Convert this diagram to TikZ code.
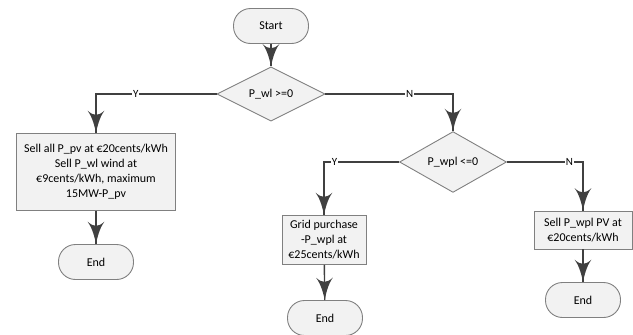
\documentclass[tikz,border=0pt]{standalone}
\usepackage{fontspec}
\setmainfont{Carlito}
\usetikzlibrary{arrows}
\usetikzlibrary{decorations.markings}
\usetikzlibrary{shapes.geometric}
\tikzset{arr/.style = {decoration={markings,
                                   mark=at position 1 with {\arrow[scale=3.2]{latex'}}},
                       postaction={decorate}}}
\tikzset{term/.style = {draw = black!50, fill = black!5, line width = 0.9pt, rounded corners = 17,
                        minimum width = 75, minimum height = 35,
                        font = \fontsize{12}{15}\selectfont}}
\tikzset{decide/.style = {diamond, draw = black!50, fill = black!5, line width = 0.9pt, inner sep = 0,
                          font = \fontsize{12}{15}\selectfont}}
\tikzset{task/.style = {draw = black!50, fill = black!5, line width = 0.9pt, align = center, inner sep = 2,
                        font = \fontsize{12}{15}\selectfont}}
\tikzset{lbl/.style = {fill = white, inner sep = 1, font = \fontsize{11}{12}\selectfont}}

\begin{document}
\begin{tikzpicture}[x = 1pt, y = -1pt, line width = 1.4pt, draw = black!75]
    \useasboundingbox (0, 0) rectangle (633, 335);
    \node [term] (start) at (271, 26) {Start};
    \node [decide, minimum width = 108, minimum height = 54] (wl) at (271, 94) {P\_wl >=0};
    \node [task, minimum width = 159, minimum height = 77] (sellall) at (96, 172)
        {Sell all P\_pv at €20cents/kWh\\Sell P\_wl wind at\\€9cents/kWh, maximum\\15MW-P\_pv};
    \node [term] (endA) at (96, 262) {End};
    \node [decide, minimum width = 107, minimum height = 56] (wpl) at (453, 162) {P\_wpl <=0};
    \node [task, minimum width = 84, minimum height = 49] (grid) at (324, 240)
        {Grid purchase\\-P\_wpl at\\€25cents/kWh};
    \node [term] (endB) at (325, 318) {End};
    \node [task, minimum width = 98, minimum height = 38] (sellpv) at (583, 230)
        {Sell P\_wpl PV at\\€20cents/kWh};
    \node [term] (endC) at (583, 300) {End};

    \draw [arr] (start) -- (wl);
    \draw [arr] (wl.west) -| node [lbl, pos = 0.335] {Y} (sellall.north);
    \draw [arr] (wl.east) -| node [lbl, pos = 0.33] {N} (wpl.north);
    \draw [arr] (sellall) -- (endA);
    \draw [arr] (wpl.west) -| node [lbl, pos = 0.43] {Y} (grid.north);
    \draw [arr] (wpl.east) -| node [lbl, pos = 0.41] {N} (sellpv.north);
    \draw [arr] (grid) -- (endB);
    \draw [arr] (sellpv) -- (endC);
  \end{tikzpicture}
\end{document}
